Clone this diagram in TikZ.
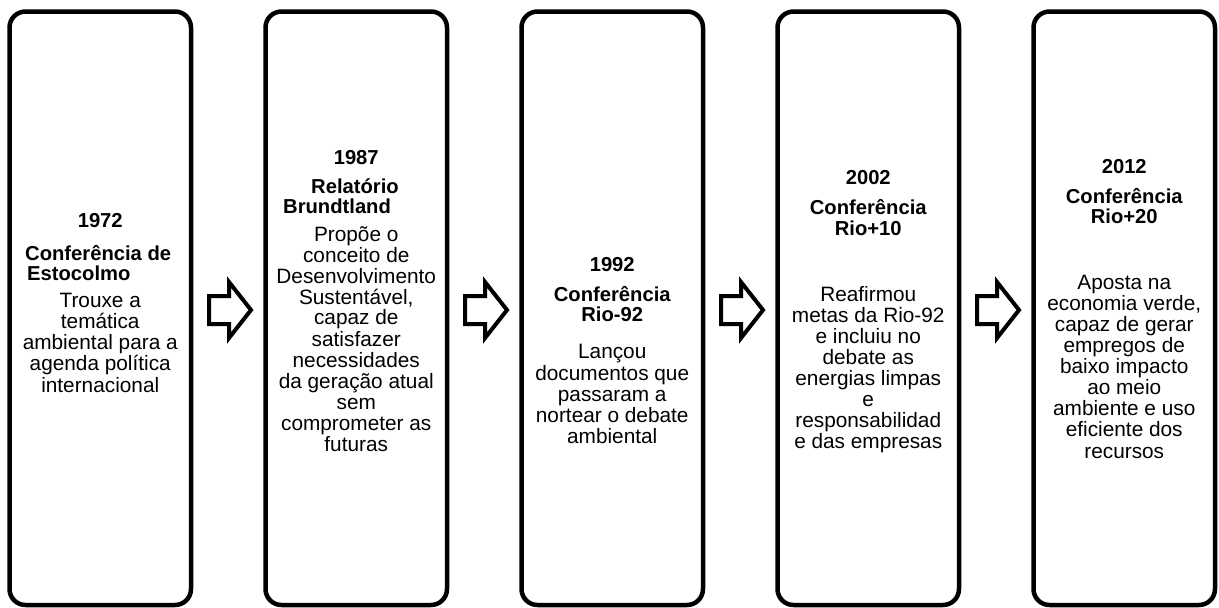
\documentclass[tikz,border=0pt]{standalone}
\usepackage{fontspec}
\setmainfont{Liberation Sans}
\usetikzlibrary{calc}
\begin{document}
\begin{tikzpicture}[x=1pt,y=-1pt,
  box/.style={draw, line width=4.5pt, rounded corners=16pt, minimum width=181.5pt, minimum height=593.5pt, inner sep=0pt},
  ttl/.style={font=\fontsize{20.2}{20}\selectfont\bfseries, anchor=base, inner sep=0pt},
  bdy/.style={font=\fontsize{20.8}{21}\selectfont, anchor=base, inner sep=0pt},
  barrow/.style={draw, line width=4pt, line join=miter, fill=white}]
\useasboundingbox (0,0) rectangle (1219,608);
\foreach \i in {1,...,5}{
  \node[box] (b\i) at ({100.25+256*(\i-1)},308.25) {};
}
\foreach \i/\j in {1/2,2/3,3/4,4/5}{
  \coordinate (m\i) at ($($(b\i.east)!.5!(b\j.west)$)+(0,1.75)$);
  \draw[barrow] ($(m\i)+(-19.25,-14)$) -- ++(20,0) -- ++(0,-14) -- ++(22,28)
    -- ++(-22,28) -- ++(0,-14) -- ++(-20,0) -- cycle;
}
% Box 1
\node[ttl] (b1y) at (100.25,227) {1972};
\node[ttl,anchor=base west] (b1ta) at (25,260) {Conferência de};
\node[ttl,anchor=base west] (b1tb) at (27,280) {Estocolmo};
\foreach \y/\t in {307/{Trouxe a},328/{temática},349/{ambiental para a},370/{agenda política},392/{internacional}}{
  \node[bdy] (b1l\y) at (100.25,\y) {\t};
}
% Box 2
\node[ttl] (b2y) at (356.25,164) {1987};
\node[ttl] (b2ta) at (355,193) {Relatório};
\node[ttl,anchor=base west] (b2tb) at (283,213) {Brundtland};
\foreach \y/\t in {241/{Propõe o},262/{conceito de},283/{Desenvolvimento},304/{Sustentável,},324/{capaz de},346/{satisfazer},367/{necessidades},388/{da geração atual},409/{sem},430/{comprometer as},451/{futuras}}{
  \node[bdy] (b2l\y) at (356.25,\y) {\t};
}
% Box 3
\node[ttl] (b3y) at (612.25,271) {1992};
\node[ttl] (b3ta) at (612.25,301) {Conferência};
\node[ttl] (b3tb) at (612.25,321) {Rio-92};
\foreach \y/\t in {358/{Lançou},380/{documentos que},401/{passaram a},422/{nortear o debate},443/{ambiental}}{
  \node[bdy] (b3l\y) at (612.25,\y) {\t};
}
% Box 4
\node[ttl] (b4y) at (868.25,184) {2002};
\node[ttl] (b4ta) at (868.25,214) {Conferência};
\node[ttl] (b4tb) at (868.25,235) {Rio+10};
\foreach \y/\t in {301/{Reafirmou},322/{metas da Rio-92},343/{e incluiu no},364/{debate as},385/{energias limpas},406/{e},427/{responsabilidad},448/{e das empresas}}{
  \node[bdy] (b4l\y) at (868.25,\y) {\t};
}
% Box 5
\node[ttl] (b5y) at (1124.25,173) {2012};
\node[ttl] (b5ta) at (1124.25,203) {Conferência};
\node[ttl] (b5tb) at (1124.25,223) {Rio+20};
\foreach \y/\t in {289/{Aposta na},310/{economia verde,},331/{capaz de gerar},352/{empregos de},373/{baixo impacto},394/{ao meio},415/{ambiente e uso},436/{eficiente dos},458/{recursos}}{
  \node[bdy] (b5l\y) at (1124.25,\y) {\t};
}
\end{tikzpicture}
\end{document}
